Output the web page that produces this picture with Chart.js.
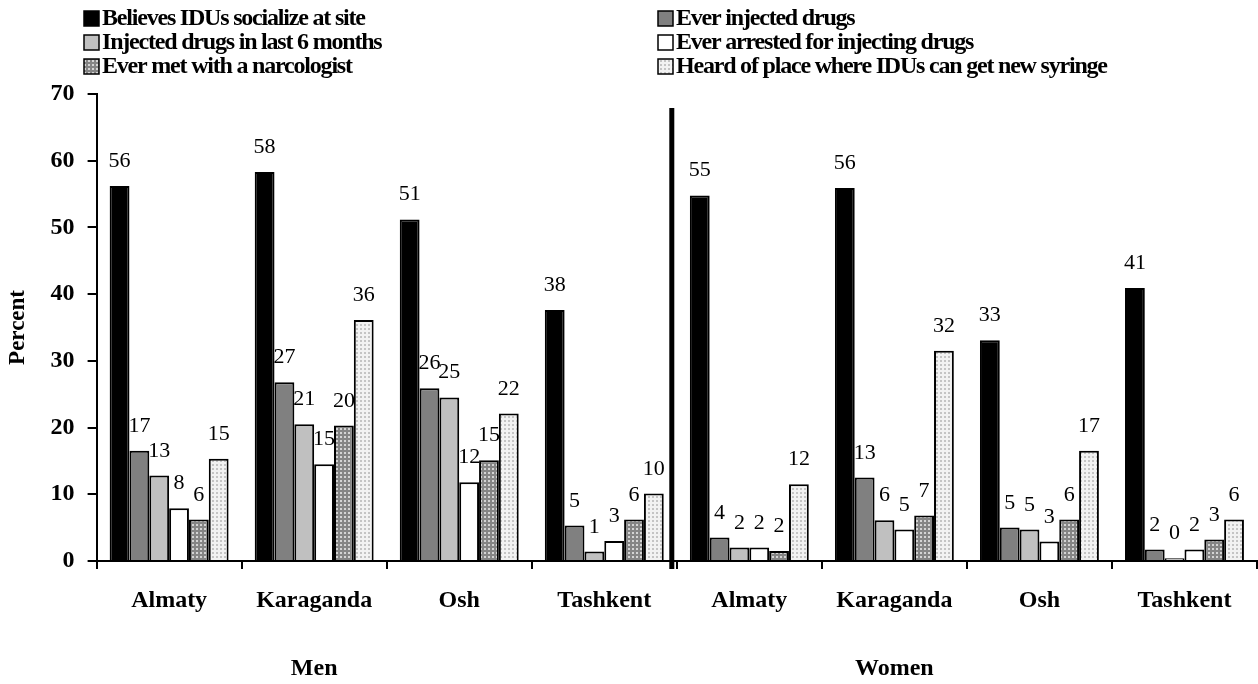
<!DOCTYPE html>
<html><head><meta charset="utf-8">
<script src="https://cdn.jsdelivr.net/npm/chart.js@4"></script>
<style>html,body{margin:0;padding:0;background:#fff}</style>
</head><body>
<canvas id="c" width="1258" height="684"></canvas>
<script>
// ---- data ----
const categories = ['Almaty','Karaganda','Osh','Tashkent','Almaty','Karaganda','Osh','Tashkent'];
const groupLabels = ['Men','Women'];
const seriesNames = [
  'Believes IDUs socialize at site',
  'Ever injected drugs',
  'Injected drugs in last 6 months',
  'Ever arrested for injecting drugs',
  'Ever met with a narcologist',
  'Heard of place where IDUs can get new syringe'
];
const believesSocialize = [56.2, 58.3, 51.2, 37.6, 54.8, 55.9, 33.1, 40.9];
const everInjected      = [16.5, 26.8, 25.9,  5.3,  3.5, 12.5,  5.0,  1.7];
const injectedLast6     = [12.8, 20.5, 24.5,  1.4,  2.0,  6.1,  4.7,  0.4];
const everArrested      = [ 7.9, 14.5, 11.8,  3.0,  2.0,  4.7,  2.9,  1.7];
const metNarcologist    = [ 6.2, 20.3, 15.1,  6.2,  1.5,  6.8,  6.2,  3.2];
const heardSyringe      = [15.3, 36.1, 22.1, 10.1, 11.5, 31.5, 16.5,  6.2];
const yMin = 0, yMax = 70, yStep = 10;

// ---- styles ----
function makePattern(bg, dot) {
  const c = document.createElement('canvas');
  c.width = 4; c.height = 4;
  const x = c.getContext('2d');
  x.fillStyle = bg; x.fillRect(0, 0, 4, 4);
  x.fillStyle = dot; x.fillRect(0, 0, 2, 2);
  return x.createPattern(c, 'repeat');
}
const ctx = document.getElementById('c').getContext('2d');
const fills = ['#000000', '#808080', '#c0c0c0', '#ffffff',
  makePattern('#858585', '#d4d4d4'), makePattern('#f2f2f2', '#c4c4c4')];
const seriesValues = [believesSocialize, everInjected, injectedLast6, everArrested, metNarcologist, heardSyringe];

const datasets = seriesValues.map((vals, i) => ({
  label: seriesNames[i],
  data: vals,
  backgroundColor: fills[i],
  borderColor: '#000',
  borderWidth: 2,
  borderSkipped: 'bottom',
  categoryPercentage: 0.82,
  barPercentage: 1.0
}));

const SERIF = '"Liberation Serif","Times New Roman",serif';

const legendPlugin = {
  id: 'gridLegend',
  afterDraw(chart) {
    const c = chart.ctx;
    const cols = [84, 658];
    const rows = [18, 42, 66];
    c.save();
    c.font = 'bold 24px ' + SERIF;
    if ('letterSpacing' in c) c.letterSpacing = '-1.2px';
    c.textBaseline = 'middle';
    c.textAlign = 'left';
    chart.data.datasets.forEach((ds, i) => {
      const x = cols[i % 2], y = rows[Math.floor(i / 2)];
      c.fillStyle = ds.backgroundColor;
      c.fillRect(x, y - 7, 15, 15);
      c.strokeStyle = '#000'; c.lineWidth = 1.5;
      c.strokeRect(x, y - 7, 15, 15);
      c.fillStyle = '#000';
      c.fillText(ds.label, x + 18, y + 1);
    });
    c.restore();
  }
};

const valueLabelPlugin = {
  id: 'valueLabels',
  afterDatasetsDraw(chart) {
    const c = chart.ctx;
    const xs = chart.scales.x, ys = chart.scales.y;
    c.save();
    c.font = '22px ' + SERIF;
    c.fillStyle = '#000';
    c.textAlign = 'center';
    c.textBaseline = 'alphabetic';
    chart.data.datasets.forEach((ds, i) => {
      chart.getDatasetMeta(i).data.forEach((bar, j) => {
        c.fillText(String(Math.round(ds.data[j])), bar.x, bar.y - 19);
      });
    });
    // group labels under the second category of each group
    c.font = 'bold 24px ' + SERIF;
    c.textBaseline = 'middle';
    groupLabels.forEach((g, k) => {
      c.fillText(g, xs.getPixelForValue(k * 4 + 1), ys.bottom + 108);
    });
    // divider between Men and Women
    const boundary = (xs.getPixelForValue(3) + xs.getPixelForValue(4)) / 2;
    c.strokeStyle = '#000';
    c.lineWidth = 5;
    c.beginPath();
    c.moveTo(boundary - 5, ys.getPixelForValue(yMax) + 14);
    c.lineTo(boundary - 5, ys.getPixelForValue(yMin) + 8);
    c.stroke();
    c.restore();
  }
};

new Chart(ctx, {
  type: 'bar',
  data: { labels: categories, datasets },
  options: {
    responsive: false,
    animation: false,
    devicePixelRatio: 1,
    layout: { padding: { top: 94, right: 1, bottom: 51, left: 0 } },
    plugins: { legend: { display: false }, tooltip: { enabled: false } },
    scales: {
      x: {
        grid: { offset: true, drawOnChartArea: false, drawTicks: true, tickLength: 8, color: '#000', lineWidth: 2 },
        border: { display: true, color: '#000', width: 2 },
        ticks: {
          color: '#000', padding: 15, maxRotation: 0, autoSkip: false,
          font: { family: SERIF, size: 24, weight: 'bold', lineHeight: 1.42 }
        }
      },
      y: {
        min: yMin, max: yMax,
        grid: { drawOnChartArea: false, drawTicks: true, tickLength: 9, color: '#000', lineWidth: 2 },
        border: { display: true, color: '#000', width: 2 },
        ticks: { stepSize: yStep, color: '#000', padding: 13, font: { family: SERIF, size: 24, weight: 'bold' } },
        title: { display: true, text: 'Percent', color: '#000', padding: { top: 4, bottom: 6 },
          font: { family: SERIF, size: 23, weight: 'bold' } }
      }
    }
  },
  plugins: [legendPlugin, valueLabelPlugin]
});
</script>
</body></html>
